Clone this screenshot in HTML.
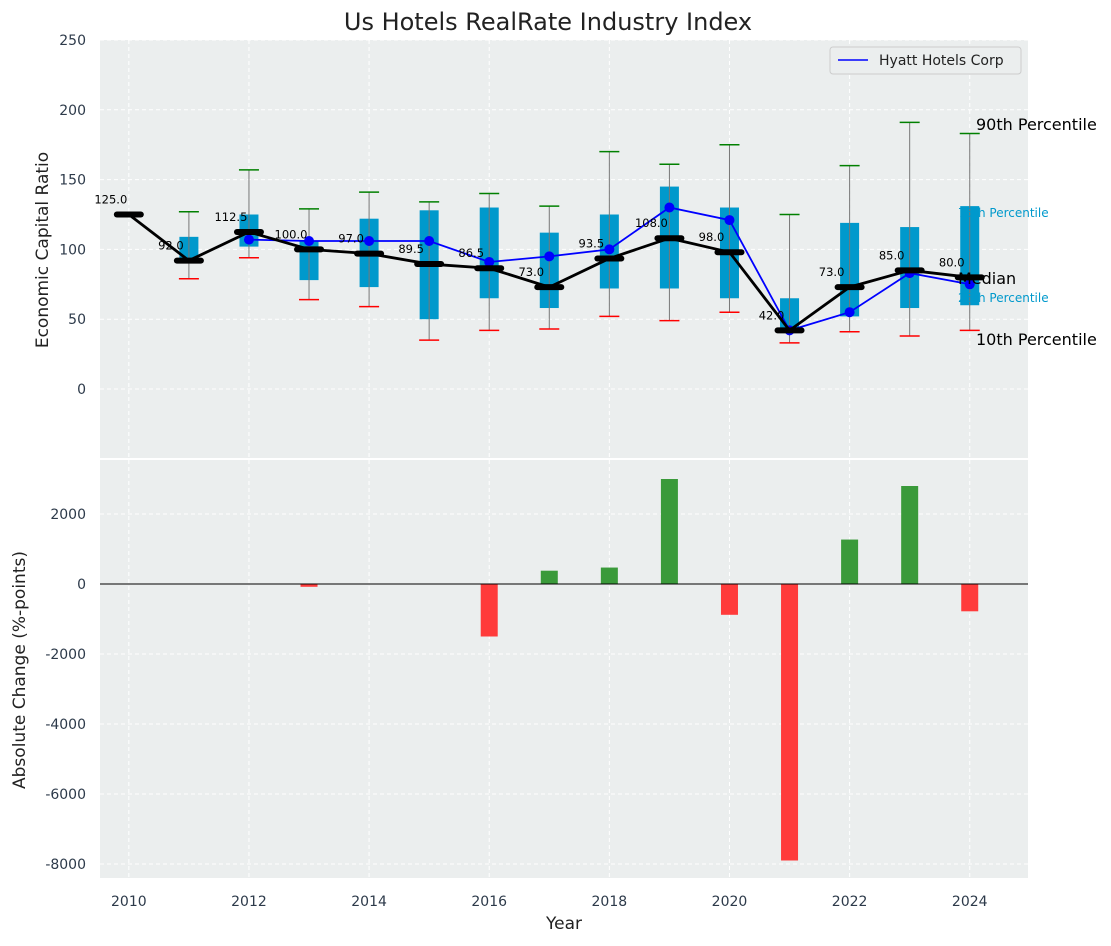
<!DOCTYPE html>
<html><head><meta charset="utf-8"><style>
body{margin:0;background:#fff;font-family:"DejaVu Sans","Liberation Sans",sans-serif}
</style></head><body>
<svg id="c" width="1111" height="942" xmlns="http://www.w3.org/2000/svg" font-family="DejaVu Sans, Liberation Sans, sans-serif"></svg>
<script>
const years=[2010,2011,2012,2013,2014,2015,2016,2017,2018,2019,2020,2021,2022,2023,2024];
const medians=[125,92,112.5,100,97,89.5,86.5,73,93.5,108,98,42,73,85,80];
const p25=[null,90,102,78,73,50,65,58,72,72,65,42,52,58,60];
const p75=[null,109,125,106,122,128,130,112,125,145,130,65,119,116,131];
const p10=[null,79,94,64,59,35,42,43,52,49,55,33,41,38,42];
const p90=[null,127,157,129,141,134,140,131,170,161,175,125,160,191,183];
const hyatt=[null,null,107,106,106,106,91,95,100,130,121,42,55,83,75];
const changes=[0,0,0,-80,0,0,-1500,380,470,3000,-880,-7900,1270,2800,-780];
const topTicks=[0,50,100,150,200,250];
const botTicks=[-8000,-6000,-4000,-2000,0,2000];
const xTicks=[2010,2012,2014,2016,2018,2020,2022,2024];
const svg=document.getElementById('c');const NS='http://www.w3.org/2000/svg';
function el(t,a,p){const e=document.createElementNS(NS,t);for(const k in a)e.setAttribute(k,a[k]);(p||svg).appendChild(e);return e;}
const L=100,R=1028;
const x=v=>L+(v-2009.52)/(2024.97-2009.52)*(R-L);
const T0=40,T1=458,yT=v=>389-v*1.396;
const B0=460,B1=878,yB=v=>584-v*0.035;
let e=el('rect',{x:L,y:T0,width:R-L,height:T1-T0,fill:'#ebeeee'});

e=el('rect',{x:L,y:B0,width:R-L,height:B1-B0,fill:'#ebeeee'});

xTicks.forEach(v=>{el('line',{x1:x(v),x2:x(v),y1:T0,y2:T1,stroke:'#fff','stroke-dasharray':'4,3'});el('line',{x1:x(v),x2:x(v),y1:B0,y2:B1,stroke:'#fff','stroke-dasharray':'4,3'});
 e=el('text',{x:x(v),y:906,'text-anchor':'middle','font-size':14,fill:'#2d3a4a'});e.textContent=v;});
topTicks.forEach(v=>{el('line',{x1:L,x2:R,y1:yT(v),y2:yT(v),stroke:'#fff','stroke-dasharray':'4,3'});
 e=el('text',{x:86,y:yT(v)+5,'text-anchor':'end','font-size':14,fill:'#2d3a4a'});e.textContent=v;});
botTicks.forEach(v=>{el('line',{x1:L,x2:R,y1:yB(v),y2:yB(v),stroke:'#fff','stroke-dasharray':'4,3'});
 e=el('text',{x:86,y:yB(v)+5,'text-anchor':'end','font-size':14,fill:'#2d3a4a'});e.textContent=v;});
years.forEach((yr,i)=>{if(p25[i]==null)return;const cx=x(yr);
 e=el('rect',{x:cx-9.5,y:yT(p75[i]),width:19,height:yT(p25[i])-yT(p75[i]),fill:'#0099cc'});
 e=el('line',{x1:cx,x2:cx,y1:yT(p90[i]),y2:yT(p10[i]),stroke:'#777','stroke-width':1});
 e=el('line',{x1:cx-10,x2:cx+10,y1:yT(p90[i]),y2:yT(p90[i]),stroke:'green','stroke-width':1.5});
 e=el('line',{x1:cx-10,x2:cx+10,y1:yT(p10[i]),y2:yT(p10[i]),stroke:'red','stroke-width':1.5});});
let pts=[];years.forEach((yr,i)=>{if(hyatt[i]!=null)pts.push(x(yr)+','+yT(hyatt[i]));});
e=el('polyline',{points:pts.join(' '),fill:'none',stroke:'blue','stroke-width':1.8});
years.forEach((yr,i)=>{if(hyatt[i]==null)return;e=el('circle',{cx:x(yr),cy:yT(hyatt[i]),r:5,fill:'blue'});});
e=el('polyline',{points:years.map((yr,i)=>x(yr)+','+yT(medians[i])).join(' '),fill:'none',stroke:'#000','stroke-width':2.8});
years.forEach((yr,i)=>{const cx=x(yr),cy=yT(medians[i]);
 e=el('line',{x1:cx-12,x2:cx+12,y1:cy,y2:cy,stroke:'#000','stroke-width':6,'stroke-linecap':'round'});
 e=el('text',{x:cx-18,y:cy-11,'text-anchor':'middle','font-size':11.5,fill:'#000'});e.textContent=medians[i].toFixed(1);});
const ann=[['90th Percentile',976,130,16,'#000'],['75th Percentile',958,217,12,'#0099cc'],['Median',958,284,16,'#000'],['25th Percentile',958,302,12,'#0099cc'],['10th Percentile',976,345,16,'#000']];
ann.forEach(a=>{e=el('text',{x:a[1],y:a[2],'font-size':a[3],fill:a[4]});e.textContent=a[0];});
const lg=el('g',{});
el('rect',{x:830,y:47,width:191,height:27,fill:'#ebeeee',stroke:'#ccc',rx:3},lg);
el('line',{x1:838,x2:868,y1:60,y2:60,stroke:'blue','stroke-width':1.6},lg);
e=el('text',{x:879,y:65,'font-size':14,fill:'#222'},lg);e.textContent='Hyatt Hotels Corp';
years.forEach((yr,i)=>{const v=changes[i];if(!v)return;const y1=yB(Math.max(v,0)),y2=yB(Math.min(v,0));
 e=el('rect',{x:x(yr)-8.5,y:y1,width:17,height:y2-y1,fill:v>0?'#3a9a3a':'#ff3b3b'});});
e=el('line',{x1:L,x2:R,y1:yB(0),y2:yB(0),stroke:'#000','stroke-width':1});
e=el('text',{x:548,y:30,'text-anchor':'middle','font-size':24,fill:'#222'});e.textContent='Us Hotels RealRate Industry Index';
e=el('text',{x:564,y:929,'text-anchor':'middle','font-size':17,fill:'#222'});e.textContent='Year';
e=el('text',{x:48,y:250,'text-anchor':'middle','font-size':17,fill:'#222',transform:'rotate(-90 48 250)'});e.textContent='Economic Capital Ratio';
e=el('text',{x:25,y:670,'text-anchor':'middle','font-size':17,fill:'#222',transform:'rotate(-90 25 670)'});e.textContent='Absolute Change (%-points)';
</script>
</body></html>
